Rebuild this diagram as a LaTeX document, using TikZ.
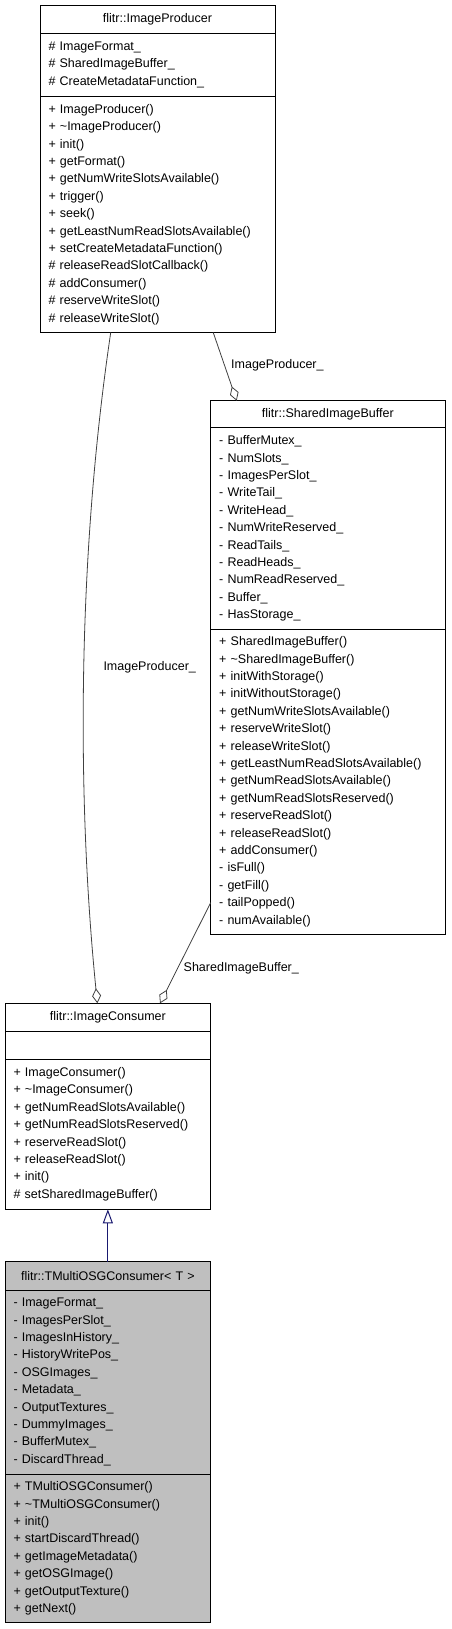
\documentclass[tikz,border=0pt]{standalone}
\usepackage{fontspec}
\setmainfont{Liberation Sans}
\usepackage{tikz}
\usetikzlibrary{arrows.meta,positioning,calc}
\definecolor{inhblue}{RGB}{25,25,112}
\definecolor{tmplgray}{RGB}{191,191,191}

\begin{document}
\begin{tikzpicture}[x=1pt,y=-1pt,
  cls/.style={draw,line width=0.9pt,inner xsep=8.5pt,inner ysep=0pt,outer sep=0pt,font={\fontsize{12.5}{17.4}\selectfont}},
  clstitle/.style={cls,align=center,anchor=north west},
  clsbody/.style={cls,align=left,below=0pt of #1},
  agg/.style={draw=black!75,line width=0.8pt,-{Diamond[open,length=15pt,width=9pt]}},
  inh/.style={draw=inhblue,line width=1pt,-{Triangle[open,length=14pt,width=10pt]}},
  lbl/.style={anchor=west,inner sep=0pt,font={\fontsize{12.5}{15}\selectfont}}]
  \useasboundingbox (0,0) rectangle (451,1629);

  % flitr::ImageProducer
  \node[clstitle,text width=218pt,minimum height=28pt] (prodT) at (40,5) {flitr::ImageProducer};
  \node[clsbody=prodT,text width=218pt,minimum height=63.7pt] (prodA) {\# ImageFormat\_\\\# SharedImageBuffer\_\\\# CreateMetadataFunction\_};
  \node[clsbody=prodA,text width=218pt,minimum height=235.7pt] (prodM) {+ ImageProducer()\\+ \textasciitilde ImageProducer()\\+ init()\\+ getFormat()\\+ getNumWriteSlotsAvailable()\\+ trigger()\\+ seek()\\+ getLeastNumReadSlotsAvailable()\\+ setCreateMetadataFunction()\\\# releaseReadSlotCallback()\\\# addConsumer()\\\# reserveWriteSlot()\\\# releaseWriteSlot()};

  % flitr::SharedImageBuffer
  \node[clstitle,text width=217.3pt,minimum height=27pt] (sibT) at (210.7,400.7) {flitr::SharedImageBuffer};
  \node[clsbody=sibT,text width=217.3pt,minimum height=201.6pt] (sibA) {- BufferMutex\_\\- NumSlots\_\\- ImagesPerSlot\_\\- WriteTail\_\\- WriteHead\_\\- NumWriteReserved\_\\- ReadTails\_\\- ReadHeads\_\\- NumReadReserved\_\\- Buffer\_\\- HasStorage\_};
  \node[clsbody=sibA,text width=217.3pt,minimum height=304.7pt] (sibM) {+ SharedImageBuffer()\\+ \textasciitilde SharedImageBuffer()\\+ initWithStorage()\\+ initWithoutStorage()\\+ getNumWriteSlotsAvailable()\\+ reserveWriteSlot()\\+ releaseWriteSlot()\\+ getLeastNumReadSlotsAvailable()\\+ getNumReadSlotsAvailable()\\+ getNumReadSlotsReserved()\\+ reserveReadSlot()\\+ releaseReadSlot()\\+ addConsumer()\\- isFull()\\- getFill()\\- tailPopped()\\- numAvailable()};

  % flitr::ImageConsumer
  \node[clstitle,text width=188.7pt,minimum height=28.4pt] (conT) at (5,1003.3) {flitr::ImageConsumer};
  \node[clsbody=conT,text width=188.7pt,minimum height=27.3pt] (conA) {};
  \node[clsbody=conA,text width=188.7pt,minimum height=150.3pt] (conM) {+ ImageConsumer()\\+ \textasciitilde ImageConsumer()\\+ getNumReadSlotsAvailable()\\+ getNumReadSlotsReserved()\\+ reserveReadSlot()\\+ releaseReadSlot()\\+ init()\\\# setSharedImageBuffer()};

  % flitr::TMultiOSGConsumer< T >
  \node[clstitle,fill=tmplgray,text width=188.7pt,minimum height=28.3pt] (tmcT) at (5,1261.7) {flitr::TMultiOSGConsumer< T >};
  \node[clsbody=tmcT,fill=tmplgray,text width=188.7pt,minimum height=184pt] (tmcA) {- ImageFormat\_\\- ImagesPerSlot\_\\- ImagesInHistory\_\\- HistoryWritePos\_\\- OSGImages\_\\- Metadata\_\\- OutputTextures\_\\- DummyImages\_\\- BufferMutex\_\\- DiscardThread\_};
  \node[clsbody=tmcA,fill=tmplgray,text width=188.7pt,minimum height=148.7pt] (tmcM) {+ TMultiOSGConsumer()\\+ \textasciitilde TMultiOSGConsumer()\\+ init()\\+ startDiscardThread()\\+ getImageMetadata()\\+ getOSGImage()\\+ getOutputTexture()\\+ getNext()};

  % associations
  \draw[agg] ($(prodM.south west)!0.737!(prodM.south east)$) -- ($(sibT.north west)!0.111!(sibT.north east)$);
  \draw[agg] ($(prodM.south west)!0.301!(prodM.south east)$) .. controls (77,560) and (77,800) .. ($(conT.north west)!0.449!(conT.north east)$);
  \draw[agg] ($(sibM.north west)!0.897!(sibM.south west)$) -- ($(conT.north west)!0.7535!(conT.north east)$);
  \node[lbl] (lblProd1) at (231,365) {ImageProducer\_};
  \node[lbl] (lblProd2) at (103.3,667.3) {ImageProducer\_};
  \node[lbl] (lblSib) at (183.5,968) {SharedImageBuffer\_};

  % inheritance
  \draw[inh] (tmcT.north) -- (conM.south);
\end{tikzpicture}
\end{document}
